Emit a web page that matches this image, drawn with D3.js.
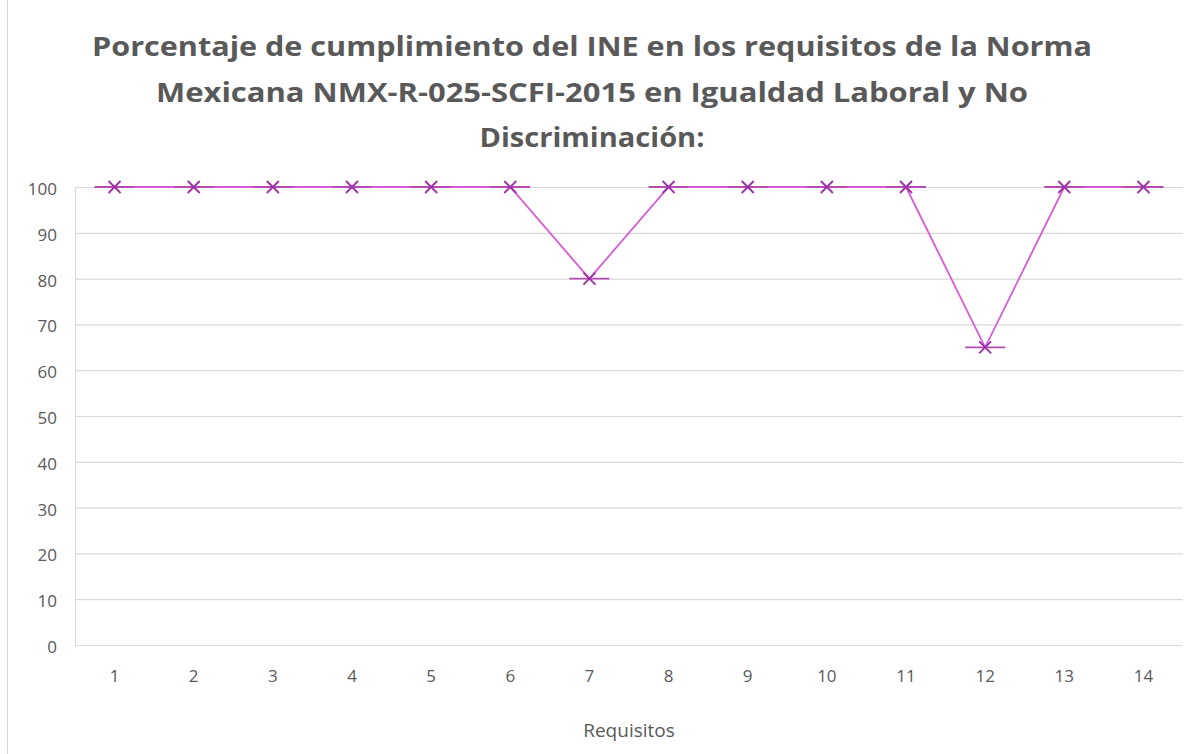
<!DOCTYPE html>
<html><head><meta charset="utf-8">
<script src="https://cdn.jsdelivr.net/npm/d3@7"></script>
<style>body{margin:0;background:#fff}svg{display:block}text{font-family:"Open Sans",sans-serif}</style>
</head><body><svg id="c" width="1184" height="754"></svg>
<script>
const titleLines = ["Porcentaje de cumplimiento del INE en los requisitos de la Norma","Mexicana NMX-R-025-SCFI-2015 en Igualdad Laboral y No","Discriminación:"];
const categories = [1,2,3,4,5,6,7,8,9,10,11,12,13,14];
const values = [100,100,100,100,100,100,80,100,100,100,100,65,100,100];
const yTicks = [0,10,20,30,40,50,60,70,80,90,100];
const xTitle = "Requisitos";

const svg = d3.select("#c");
svg.append("rect").attr("x",7.5).attr("y",-2).attr("width",1190).attr("height",760).attr("fill","#fff").attr("stroke","#d9d9d9");
const m={l:75,r:1183,t:187,b:645};
const x=d3.scaleBand().domain(categories).range([m.l,m.r]);
const y=d3.scaleLinear().domain([0,100]).range([m.b,m.t]);

svg.append("g").selectAll("line").data(yTicks).join("line")
 .attr("x1",m.l).attr("x2",m.r).attr("y1",d=>y(d)+0.5).attr("y2",d=>y(d)+0.5)
 .attr("stroke","#d9d9d9").attr("stroke-width",1.2);
svg.append("line").attr("x1",m.l+0.5).attr("x2",m.l+0.5).attr("y1",m.t).attr("y2",m.b).attr("stroke","#d9d9d9");

const ya=svg.append("g").attr("transform",`translate(57,2)`).call(d3.axisLeft(y).tickValues(yTicks).tickSize(0).tickPadding(0));
ya.select(".domain").remove();
ya.selectAll("text").attr("font-size",17).attr("fill","#595959").style("font-family","'Open Sans',sans-serif");
const xa=svg.append("g").attr("transform",`translate(0,${m.b+25})`).call(d3.axisBottom(x).tickSize(0).tickPadding(0));
xa.select(".domain").remove();
xa.selectAll("text").attr("font-size",17).attr("fill","#595959").style("font-family","'Open Sans',sans-serif");

const cx=d=>x(d)+x.bandwidth()/2;
const data=categories.map((c,i)=>({c,v:values[i]}));
svg.append("path").datum(data).attr("fill","none").attr("stroke","#d65cd6").attr("stroke-width",1.8)
 .attr("d",d3.line().x(d=>cx(d.c)).y(d=>y(d.v)));
const mk=svg.append("g").selectAll("g").data(data).join("g").attr("transform",d=>`translate(${cx(d.c)},${y(d.v)})`);
mk.append("line").attr("x1",-20).attr("x2",20).attr("stroke","#b34db3").attr("stroke-width",1.8);
mk.append("path").attr("d","M-6,-6L6,6M-6,6L6,-6").attr("stroke","#9c2fa8").attr("stroke-width",1.8);

const tl=[1000,872,225];
svg.append("g").selectAll("text").data(titleLines).join("text")
 .attr("x",592).attr("y",(d,i)=>56+i*45.5).attr("text-anchor","middle")
 .attr("font-size",26).attr("font-weight","bold").attr("fill","#595959")
 .attr("textLength",(d,i)=>tl[i]).attr("lengthAdjust","spacingAndGlyphs").text(d=>d);
svg.append("text").attr("x",(m.l+m.r)/2).attr("y",737).attr("text-anchor","middle")
 .attr("font-size",19).attr("fill","#595959").text(xTitle);
</script></body></html>
